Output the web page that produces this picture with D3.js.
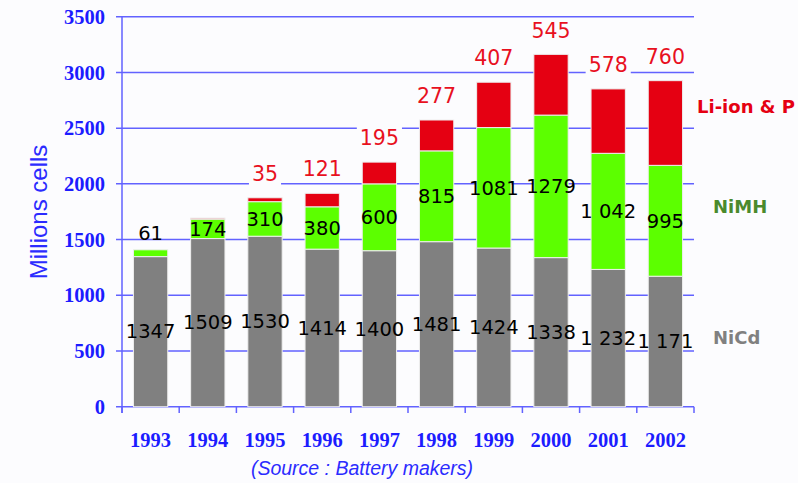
<!DOCTYPE html>
<html>
<head>
<meta charset="utf-8">
<script src="https://cdn.jsdelivr.net/npm/d3@7"></script>
<style>
  html, body { margin: 0; padding: 0; background: #fcfcfe; overflow: hidden; }
  svg { display: block; }
</style>
</head>
<body>
<svg id="chart" width="798" height="483"></svg>
<script>
// ---- data ----
const years = ["1993","1994","1995","1996","1997","1998","1999","2000","2001","2002"];
const nicd  = [1347,1509,1530,1414,1400,1481,1424,1338,1232,1171];
const nimh  = [61,174,310,380,600,815,1081,1279,1042,995];
const liion = [0,10,35,121,195,277,407,545,578,760];
const nicdLabels  = ["1347","1509","1530","1414","1400","1481","1424","1338","1 232","1 171"];
const nimhLabels  = ["61","174","310","380","600","815","1081","1279","1 042","995"];
const liionLabels = ["","","35","121","195","277","407","545","578","760"];
const seriesKeys  = ["NiCd","NiMH","Li-ion & P"];
const yTicks = [0,500,1000,1500,2000,2500,3000,3500];

// ---- styles ----
const colors = {"NiCd":"#808080","NiMH":"#5cff00","Li-ion & P":"#e50012"};
const bg = "#fcfcfe";
const gridColor = "#6262ff";
const tickColor = "#1c1cff";

const svg = d3.select("#chart");
svg.append("rect").attr("width",798).attr("height",483).attr("fill",bg);

const x = d3.scaleBand().domain(years).range([122, 694]).paddingInner(0.4).paddingOuter(0.2);
const y = d3.scaleLinear().domain([0, 3500]).range([406.7, 16.7]);

const rows = years.map((yr,i)=>({year:yr, "NiCd":nicd[i], "NiMH":nimh[i], "Li-ion & P":liion[i]}));
const stacked = d3.stack().keys(seriesKeys)(rows);

// gridlines
svg.append("g").selectAll("line").data(yTicks).join("line")
  .attr("x1",116).attr("x2",694)
  .attr("y1",d=>y(d)).attr("y2",d=>y(d))
  .attr("stroke",gridColor).attr("stroke-width",1.5);

// y axis line
svg.append("line").attr("x1",122).attr("x2",122).attr("y1",y(3500)).attr("y2",413)
  .attr("stroke",gridColor).attr("stroke-width",1.5);

// x ticks at band boundaries
const half = (x.step()-x.bandwidth())/2;
const xb = years.map(d=>x(d)-half).concat([x.range()[1]]);
svg.append("g").selectAll("line").data(xb).join("line")
  .attr("x1",d=>d).attr("x2",d=>d).attr("y1",y(0)).attr("y2",413)
  .attr("stroke",gridColor).attr("stroke-width",1.5);

// y tick labels
svg.append("g").selectAll("text").data(yTicks).join("text")
  .attr("x",105).attr("y",d=>y(d)).attr("dy","0.35em")
  .attr("text-anchor","end")
  .attr("font-family","Liberation Serif, serif").attr("font-weight","bold")
  .attr("font-size",20.5).attr("fill",tickColor)
  .text(d=>d);

// x tick labels
svg.append("g").selectAll("text").data(years).join("text")
  .attr("x",d=>x(d)+x.bandwidth()/2).attr("y",447)
  .attr("text-anchor","middle")
  .attr("font-family","Liberation Serif, serif").attr("font-weight","bold")
  .attr("font-size",20.5).attr("fill",tickColor)
  .text(d=>d);

// bars
stacked.forEach(s=>{
  svg.append("g").selectAll("rect").data(s).join("rect")
    .attr("x",d=>x(d.data.year)).attr("width",x.bandwidth())
    .attr("y",d=>y(d[1])).attr("height",d=>Math.max(0,y(d[0])-y(d[1])))
    .attr("fill",colors[s.key])
    .attr("stroke","#eeeeee").attr("stroke-width",1);
});

// NiCd labels (middle)
svg.append("g").selectAll("text").data(stacked[0]).join("text")
  .attr("x",d=>x(d.data.year)+x.bandwidth()/2)
  .attr("y",d=>y((d[0]+d[1])/2)).attr("dy","0.35em")
  .attr("text-anchor","middle")
  .attr("font-family","DejaVu Sans, sans-serif").attr("font-size",19.5).attr("fill","#000")
  .text((d,i)=>nicdLabels[i]);

// NiMH labels (middle, above if segment too thin)
svg.append("g").selectAll("text").data(stacked[1]).join("text")
  .attr("x",d=>x(d.data.year)+x.bandwidth()/2)
  .attr("y",d=> (d[1]-d[0]) < 100 ? y(d[1]) - 17 : y((d[0]+d[1])/2)).attr("dy","0.35em")
  .attr("text-anchor","middle")
  .attr("font-family","DejaVu Sans, sans-serif").attr("font-size",19.5).attr("fill","#000")
  .text((d,i)=>nimhLabels[i]);

// Li-ion labels above, with background boxes
const liG = svg.append("g");
stacked[2].forEach((d,i)=>{
  const lbl = liionLabels[i];
  if (!lbl) return;
  const cx = x(d.data.year)+x.bandwidth()/2;
  const cy = y(d[1]) - 24;
  const g = liG.append("g");
  const t = g.append("text").attr("x",cx).attr("y",cy).attr("dy","0.35em")
    .attr("text-anchor","middle")
    .attr("font-family","DejaVu Sans, sans-serif").attr("font-size",20.5).attr("fill","#e8101e")
    .text(lbl);
  const w = t.node().getComputedTextLength();
  g.insert("rect","text").attr("x",cx-w/2-3).attr("y",cy-12).attr("width",w+6).attr("height",24).attr("fill",bg);
});

// series labels on right
const legend = [
  {k:"Li-ion & P", x:697, y:107, c:"#e50012"},
  {k:"NiMH", x:713, y:207, c:"#4a8a2c"},
  {k:"NiCd", x:713, y:338, c:"#808080"}
];
svg.append("g").selectAll("text").data(legend).join("text")
  .attr("x",d=>d.x).attr("y",d=>d.y).attr("dy","0.35em")
  .attr("font-family","DejaVu Sans, sans-serif").attr("font-weight","bold")
  .attr("font-size",18).attr("fill",d=>d.c)
  .text(d=>d.k);

// y axis title
svg.append("text")
  .attr("transform","translate(47,212) rotate(-90)")
  .attr("text-anchor","middle")
  .attr("font-family","Liberation Sans, Arial, sans-serif").attr("font-size",24)
  .attr("fill","#2b2bff")
  .text("Millions cells");

// source
svg.append("text")
  .attr("x",362).attr("y",475)
  .attr("text-anchor","middle")
  .attr("font-family","Liberation Sans, Arial, sans-serif").attr("font-style","italic")
  .attr("font-size",19.5).attr("fill","#2b2bff")
  .text("(Source : Battery makers)");
</script>
</body>
</html>
